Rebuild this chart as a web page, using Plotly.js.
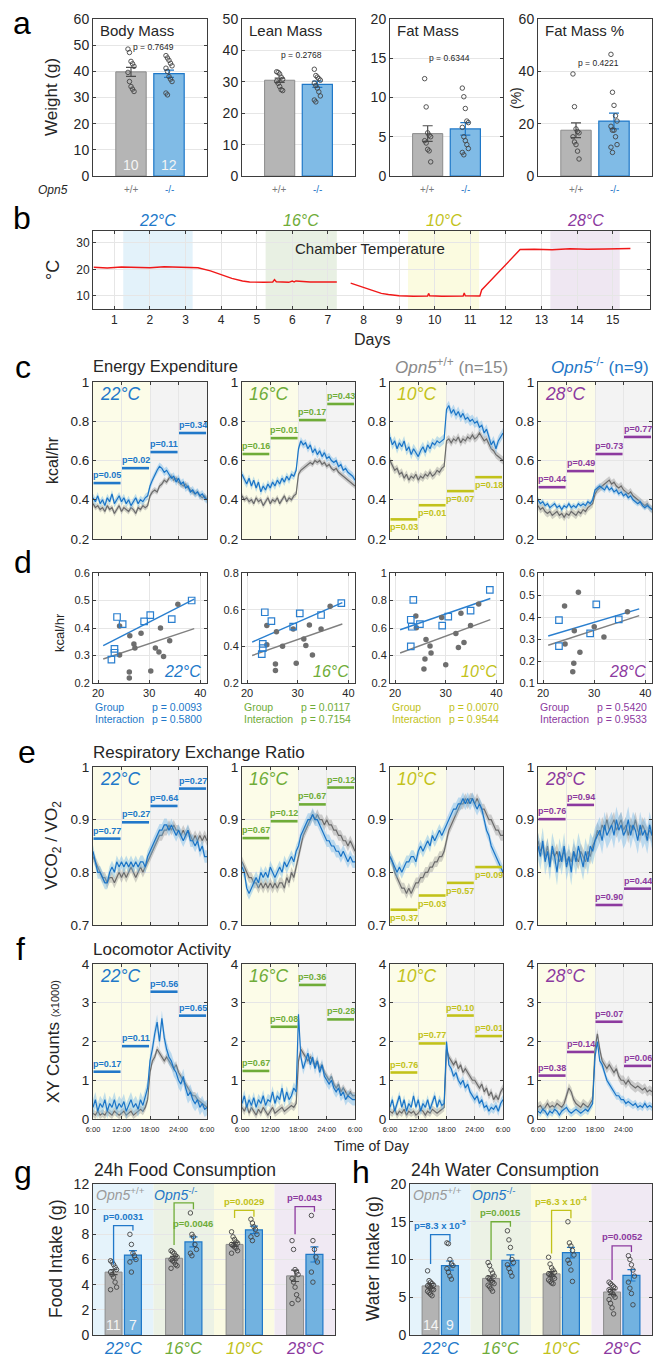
<!DOCTYPE html>
<html>
<head>
<meta charset="utf-8">
<script src="https://cdn.plot.ly/plotly-3.0.1.min.js"></script>
<style>html,body{margin:0;padding:0;background:#fff}#chart{width:657px;height:1357px}</style>
</head>
<body>
<div id="chart"></div>
<script>
// ===================== DATA =====================
const genotypeLabels = ['+/+', '-/-'];
const tempLabels = ['22°C', '16°C', '10°C', '28°C'];

// panel a : body composition
const massTitles = ['Body Mass', 'Lean Mass', 'Fat Mass', 'Fat Mass %'];
const massMeanWT = [39.8, 30.5, 5.4, 17.5];
const massSemWT  = [1.7, 0.7, 1.0, 2.8];
const massMeanKO = [39.1, 29.2, 6.0, 21.0];
const massSemKO  = [1.4, 1.0, 0.8, 3.0];
const massPvals  = ['0.7649', '0.2768', '0.6344', '0.4221'];
const massN      = [10, 12];
const bodyWT   = [48.5, 47.2, 43.8, 42.9, 41.9, 39.6, 36.1, 34.2, 33.2, 32.3];
const bodyKO   = [46.0, 45.1, 44.2, 43.1, 42.1, 41.2, 40.0, 38.0, 37.0, 36.1, 31.7, 31.0];
const leanWT   = [33.2, 33.0, 32.5, 31.5, 30.8, 30.2, 29.5, 28.5, 27.5, 27.2];
const leanKO   = [34.0, 32.0, 31.5, 31.0, 30.5, 29.6, 28.8, 28.0, 26.8, 25.5, 24.2, 23.6];
const fatWT    = [12.4, 8.8, 5.5, 5.2, 5.0, 4.5, 4.2, 3.4, 3.2, 1.8];
const fatKO    = [11.2, 10.1, 8.6, 7.0, 6.8, 6.2, 5.0, 4.5, 4.0, 3.5, 3.0, 2.7];
const fatPctWT = [39.0, 26.5, 18.0, 17.0, 16.5, 15.0, 13.0, 12.0, 9.5, 6.5];
const fatPctKO = [46.5, 32.0, 27.0, 23.0, 21.0, 19.0, 17.5, 17.5, 15.0, 12.0, 11.0, 9.0];

// panel b : chamber temperature
const chamberDay  = [0.42,0.8,1.2,1.6,2.0,2.4,2.8,3.1,3.35,3.7,4.0,4.3,4.6,4.8,5.2,5.45,5.5,5.55,5.9,6.0,6.05,6.1,6.5,6.9,7.25,7.26,7.64,7.9,8.2,8.5,8.7,9.0,9.4,9.8,9.83,9.86,10.2,10.6,10.8,10.83,10.86,11.27,11.32,11.5,12.0,12.4,12.8,13.3,13.8,14.3,14.8,15.3,15.5];
const chamberTemp = [20.8,20.5,20.9,20.7,20.6,21.0,20.8,20.5,20.6,19.4,18.0,16.6,15.6,15.2,15.1,15.2,16.1,15.3,15.1,15.6,15.2,15.6,15.2,15.3,15.2,null,14.8,13.6,12.0,10.9,10.5,10.0,9.8,9.9,10.9,10.0,9.8,10.0,9.9,11.1,10.0,9.9,12.2,14.7,21.8,27.5,27.6,27.4,27.8,27.6,27.7,27.9,27.9];
const tempWindows = [[1.25, 3.2], [5.25, 7.25], [9.25, 11.25], [13.25, 15.2]];

// panel c : energy expenditure (kcal/hr), 30-min bins from 6:00
const ee22WT = [0.38,0.36,0.37,0.35,0.36,0.34,0.37,0.35,0.36,0.33,0.35,0.37,0.34,0.36,0.35,0.34,0.36,0.35,0.33,0.36,0.35,0.37,0.36,0.37,
                0.42,0.44,0.45,0.44,0.47,0.48,0.50,0.49,0.51,0.52,0.50,0.51,0.49,0.48,0.47,0.48,0.46,0.45,0.44,0.43,0.44,0.42,0.41,0.42,0.40];
const ee22KO = [0.41,0.39,0.42,0.38,0.40,0.37,0.41,0.39,0.43,0.38,0.40,0.42,0.39,0.41,0.38,0.40,0.37,0.39,0.41,0.38,0.40,0.39,0.41,0.42,
                0.47,0.50,0.53,0.55,0.57,0.56,0.54,0.55,0.53,0.51,0.52,0.49,0.51,0.48,0.49,0.46,0.47,0.44,0.45,0.43,0.44,0.42,0.43,0.41,0.40];
const ee16WT = [0.42,0.40,0.41,0.39,0.40,0.38,0.41,0.39,0.40,0.37,0.39,0.41,0.38,0.40,0.39,0.41,0.38,0.40,0.42,0.39,0.41,0.40,0.42,0.43,
                0.53,0.55,0.56,0.57,0.58,0.59,0.58,0.60,0.59,0.60,0.58,0.59,0.57,0.58,0.56,0.55,0.56,0.54,0.53,0.52,0.51,0.50,0.49,0.48,0.47];
const ee16KO = [0.53,0.50,0.48,0.51,0.47,0.50,0.46,0.49,0.44,0.47,0.45,0.48,0.46,0.49,0.47,0.50,0.48,0.51,0.49,0.52,0.50,0.53,0.52,0.55,
                0.66,0.70,0.68,0.69,0.66,0.68,0.64,0.66,0.63,0.65,0.62,0.64,0.61,0.62,0.60,0.59,0.60,0.57,0.58,0.55,0.56,0.54,0.53,0.52,0.50];
const ee10WT = [0.60,0.57,0.55,0.56,0.53,0.54,0.51,0.53,0.50,0.52,0.51,0.53,0.50,0.52,0.51,0.53,0.52,0.54,0.52,0.53,0.55,0.54,0.56,0.57,
                0.70,0.71,0.69,0.71,0.70,0.72,0.69,0.71,0.70,0.72,0.71,0.73,0.71,0.72,0.74,0.72,0.70,0.71,0.68,0.66,0.65,0.63,0.62,0.61,0.60];
const ee10KO = [0.72,0.68,0.70,0.66,0.69,0.67,0.70,0.65,0.67,0.63,0.66,0.64,0.62,0.65,0.67,0.64,0.68,0.66,0.69,0.68,0.70,0.69,0.70,0.71,
                0.86,0.88,0.84,0.86,0.83,0.85,0.82,0.84,0.81,0.82,0.80,0.81,0.79,0.80,0.77,0.78,0.74,0.76,0.72,0.68,0.70,0.66,0.70,0.72,0.74];
const ee28WT = [0.37,0.35,0.36,0.34,0.33,0.34,0.32,0.33,0.34,0.32,0.33,0.31,0.33,0.32,0.34,0.33,0.32,0.34,0.33,0.35,0.34,0.36,0.37,0.38,
                0.43,0.45,0.46,0.47,0.48,0.49,0.50,0.48,0.49,0.47,0.46,0.47,0.45,0.44,0.43,0.44,0.42,0.41,0.40,0.39,0.38,0.37,0.38,0.36,0.35];
const ee28KO = [0.40,0.38,0.39,0.37,0.38,0.36,0.37,0.38,0.36,0.37,0.35,0.37,0.36,0.38,0.36,0.37,0.36,0.38,0.37,0.38,0.37,0.39,0.38,0.40,
                0.45,0.46,0.47,0.46,0.45,0.47,0.45,0.46,0.44,0.45,0.43,0.44,0.42,0.43,0.41,0.42,0.40,0.39,0.38,0.39,0.37,0.36,0.37,0.36,0.35];
const eeSemWT = [0.015, 0.015, 0.02, 0.02];
const eeSemKO = [0.02, 0.02, 0.025, 0.015];
const eePvals = [['0.05','0.02','0.11','0.34'],['0.16','0.01','0.17','0.43'],['0.03','0.01','0.07','0.18'],['0.44','0.49','0.73','0.77']];

// panel d : individual EE vs body mass
const dxWT22 = [24.2,26.2,27.0,27.2,24.2,28.4,32.2,31.2,31.9,32.8,34.0,35.6,26.1,26.1,30.3];
const dyWT22 = [0.407,0.372,0.342,0.327,0.302,0.381,0.40,0.327,0.313,0.296,0.354,0.486,0.24,0.218,0.244];
const dxKO22 = [23.7,24.8,29.0,30.2,34.4,38.3,23.2,23.2,22.6];
const dyKO22 = [0.44,0.414,0.424,0.447,0.432,0.50,0.324,0.31,0.285];
const dxWT16 = [23.9,25.8,27.0,29.1,32.3,31.2,31.6,32.9,34.6,23.9,25.6,25.6,29.7,36.4];
const dyWT16 = [0.513,0.48,0.40,0.495,0.517,0.44,0.404,0.353,0.495,0.408,0.304,0.268,0.308,0.618];
const dxKO16 = [23.5,24.8,23.1,23.1,22.9,29.1,30.4,34.6,38.6];
const dyKO16 = [0.586,0.538,0.413,0.39,0.358,0.507,0.58,0.571,0.636];
const dxWT10 = [24.1,24.2,26.1,26.9,27.1,29.2,32.0,33.0,32.5,33.6,34.9,36.5,25.9,25.7,30.0];
const dyWT10 = [0.688,0.601,0.517,0.469,0.418,0.676,0.56,0.708,0.459,0.495,0.618,0.775,0.374,0.302,0.333];
const dxKO10 = [23.6,23.1,23.3,24.9,29.3,30.5,34.9,38.7,23.1];
const dyKO10 = [0.804,0.66,0.609,0.628,0.618,0.683,0.727,0.877,0.466];
const dxWT28 = [24.2,26.9,26.1,24.3,30.0,31.9,36.5,27.2,26.0,25.8];
const dyWT28 = [0.45,0.512,0.338,0.277,0.356,0.309,0.424,0.24,0.19,0.151];
const dxKO28 = [23.1,23.1,30.4,29.2,34.8];
const dyKO28 = [0.386,0.268,0.457,0.326,0.389];
const fitSlopeWT = [0.0062, 0.00966, 0.01367, 0.00756];
const fitInterWT = [0.157, 0.1471, 0.131, 0.1128];
const fitSlopeKO = [0.00949, 0.01209, 0.01278, 0.00694];
const fitInterKO = [0.1365, 0.1693, 0.3187, 0.1678];
const dGroupP = ['0.0093', '0.0117', '0.0070', '0.5420'];
const dInterP = ['0.5800', '0.7154', '0.9544', '0.9533'];

// panel e : RER
const rer22WT = [0.83,0.82,0.81,0.80,0.79,0.79,0.78,0.79,0.79,0.78,0.79,0.80,0.79,0.80,0.79,0.80,0.81,0.80,0.79,0.80,0.81,0.80,0.81,0.82,
                 0.83,0.84,0.85,0.86,0.87,0.87,0.88,0.88,0.89,0.88,0.89,0.88,0.88,0.87,0.88,0.87,0.88,0.87,0.86,0.87,0.86,0.87,0.86,0.87,0.86];
const rer22KO = [0.84,0.82,0.80,0.80,0.79,0.78,0.78,0.80,0.81,0.80,0.82,0.81,0.82,0.81,0.82,0.81,0.82,0.81,0.82,0.81,0.82,0.82,0.81,0.83,
                 0.84,0.85,0.86,0.87,0.88,0.88,0.89,0.89,0.88,0.89,0.88,0.87,0.88,0.87,0.86,0.87,0.88,0.86,0.86,0.85,0.86,0.84,0.85,0.83,0.83];
const rer16WT = [0.82,0.81,0.80,0.79,0.79,0.78,0.78,0.77,0.78,0.77,0.78,0.77,0.78,0.77,0.78,0.77,0.78,0.78,0.77,0.79,0.78,0.80,0.79,0.81,
                 0.83,0.85,0.87,0.88,0.89,0.90,0.91,0.90,0.91,0.90,0.90,0.89,0.90,0.89,0.89,0.88,0.88,0.87,0.87,0.86,0.86,0.85,0.86,0.85,0.84];
const rer16KO = [0.81,0.80,0.77,0.76,0.77,0.78,0.79,0.78,0.80,0.79,0.80,0.79,0.81,0.80,0.79,0.80,0.81,0.80,0.82,0.81,0.82,0.83,0.82,0.84,
                 0.85,0.87,0.88,0.89,0.90,0.90,0.91,0.90,0.90,0.89,0.88,0.87,0.86,0.86,0.85,0.85,0.84,0.84,0.83,0.84,0.83,0.82,0.83,0.82,0.82];
const rer10WT = [0.83,0.82,0.80,0.79,0.78,0.77,0.77,0.76,0.77,0.76,0.77,0.78,0.78,0.79,0.79,0.80,0.80,0.81,0.81,0.82,0.82,0.83,0.83,0.84,
                 0.86,0.88,0.89,0.90,0.91,0.92,0.93,0.93,0.94,0.93,0.94,0.94,0.93,0.94,0.93,0.92,0.92,0.91,0.90,0.90,0.89,0.88,0.88,0.87,0.87];
const rer10KO = [0.83,0.82,0.81,0.80,0.81,0.80,0.81,0.82,0.82,0.83,0.83,0.82,0.84,0.85,0.84,0.85,0.86,0.85,0.87,0.86,0.87,0.88,0.87,0.88,
                 0.89,0.90,0.91,0.92,0.92,0.93,0.93,0.94,0.93,0.94,0.93,0.94,0.93,0.92,0.93,0.92,0.90,0.88,0.87,0.85,0.84,0.83,0.82,0.81,0.80];
const rer28WT = [0.86,0.84,0.85,0.83,0.85,0.82,0.84,0.83,0.84,0.82,0.83,0.84,0.82,0.83,0.82,0.84,0.83,0.82,0.84,0.83,0.82,0.84,0.83,0.85,
                 0.86,0.88,0.87,0.89,0.88,0.90,0.88,0.89,0.90,0.88,0.89,0.90,0.88,0.89,0.87,0.89,0.88,0.90,0.88,0.87,0.89,0.88,0.87,0.88,0.87];
const rer28KO = [0.85,0.83,0.86,0.82,0.84,0.81,0.85,0.83,0.80,0.84,0.82,0.85,0.81,0.83,0.80,0.84,0.82,0.85,0.83,0.81,0.84,0.82,0.85,0.84,
                 0.86,0.87,0.88,0.86,0.89,0.87,0.88,0.89,0.87,0.90,0.88,0.89,0.87,0.88,0.90,0.87,0.89,0.88,0.86,0.89,0.87,0.88,0.86,0.89,0.87];
const rerSemWT = [0.01, 0.01, 0.01, 0.015];
const rerSemKO = [0.012, 0.012, 0.012, 0.025];
const rerPvals = [['0.77','0.27','0.64','0.27'],['0.67','0.12','0.67','0.12'],['0.37','0.03','0.57','0.09'],['0.76','0.94','0.90','0.44']];

// panel f : locomotor activity (x1000 counts)
const loc22WT = [0.15,0.10,0.20,0.10,0.15,0.10,0.20,0.15,0.10,0.20,0.15,0.10,0.15,0.20,0.10,0.15,0.20,0.10,0.15,0.20,0.25,0.20,0.30,0.50,
                 1.20,1.50,1.60,1.80,1.70,1.60,1.50,1.60,1.50,1.40,1.30,1.40,1.20,1.10,1.00,0.90,0.80,0.70,0.60,0.60,0.50,0.45,0.40,0.35,0.30];
const loc22KO = [0.30,0.50,0.20,0.40,0.30,0.50,0.20,0.40,0.30,0.50,0.25,0.40,0.30,0.45,0.20,0.35,0.50,0.30,0.40,0.25,0.50,0.35,0.60,0.80,
                 1.50,1.80,2.20,2.50,2.00,2.60,2.10,1.80,1.60,1.50,1.30,1.20,1.00,0.90,1.10,0.80,0.60,0.70,0.50,0.40,0.50,0.30,0.40,0.25,0.30];
const loc16WT = [0.30,0.20,0.35,0.15,0.30,0.20,0.10,0.25,0.15,0.30,0.20,0.10,0.20,0.30,0.15,0.20,0.25,0.30,0.20,0.25,0.30,0.35,0.30,0.40,
                 1.50,1.80,1.70,1.60,1.50,1.60,1.50,1.40,1.50,1.30,1.40,1.20,1.10,1.00,1.10,0.90,0.80,0.90,0.70,0.80,0.70,0.60,0.70,0.60,0.60];
const loc16KO = [0.40,0.60,0.30,0.50,0.35,0.55,0.30,0.50,0.40,0.60,0.35,0.50,0.45,0.70,0.40,0.60,0.50,0.80,0.45,0.70,0.50,0.60,0.80,0.70,
                 2.70,1.60,1.30,1.50,1.70,1.40,1.60,1.30,1.50,1.20,1.40,1.10,1.00,0.90,1.00,0.80,0.70,0.80,0.60,0.70,0.50,0.60,0.55,0.50,0.50];
const loc10WT = [0.20,0.15,0.25,0.10,0.20,0.15,0.25,0.10,0.20,0.15,0.20,0.10,0.15,0.25,0.20,0.10,0.20,0.15,0.25,0.20,0.15,0.20,0.25,0.30,
                 1.80,1.60,1.50,1.40,1.50,1.30,1.40,1.20,1.30,1.20,1.10,1.00,1.00,0.90,0.80,0.90,0.70,0.80,0.60,0.70,0.50,0.60,0.50,0.70,0.80];
const loc10KO = [0.30,0.50,0.20,0.40,0.60,0.30,0.50,0.20,0.40,0.30,0.60,0.30,0.50,0.20,0.40,0.30,0.50,0.25,0.40,0.60,0.30,0.50,0.35,0.40,
                 2.00,1.40,1.30,1.10,1.20,1.00,0.90,1.00,0.80,0.90,0.70,0.60,0.50,0.60,0.40,0.50,0.30,0.35,0.20,0.30,0.25,0.35,0.20,0.40,0.50];
const loc28WT = [0.30,0.35,0.25,0.30,0.40,0.30,0.35,0.30,0.40,0.35,0.30,0.40,0.60,0.80,0.70,0.50,0.40,0.35,0.30,0.40,0.35,0.30,0.40,0.50,
                 1.80,2.20,1.80,1.50,1.40,1.30,1.40,1.30,1.20,1.30,1.10,1.00,1.00,0.90,1.00,0.90,0.85,0.80,0.85,0.80,0.75,0.80,0.70,0.75,0.70];
const loc28KO = [0.20,0.15,0.25,0.20,0.10,0.20,0.15,0.25,0.20,0.10,0.20,0.25,0.30,0.20,0.15,0.20,0.25,0.20,0.15,0.20,0.25,0.20,0.30,0.40,
                 1.60,2.00,1.50,1.40,1.20,1.00,0.90,0.80,0.70,0.60,0.60,0.50,0.50,0.40,0.45,0.40,0.35,0.40,0.30,0.35,0.30,0.40,0.30,0.35,0.30];
const locSemWT = [0.1, 0.1, 0.1, 0.12];
const locSemKO = [0.2, 0.15, 0.12, 0.1];
const locPvals = [['0.17','0.11','0.56','0.65'],['0.67','0.08','0.36','0.28'],['0.76','0.77','0.10','0.01'],['0.38','0.14','0.07','0.06']];
const timeTickText = ['6:00', '12:00', '18:00', '24:00', '6:00'];

// panel g : food intake (g)
const foodWT22 = [5.9,5.8,5.6,5.4,5.2,5.0,4.8,4.6,4.2,3.8,3.6];
const foodKO22 = [8.0,7.2,6.5,6.3,6.0,5.8,5.0];
const foodWT16 = [6.7,6.6,6.5,6.3,6.2,6.0,5.9,5.8,5.6,5.5,5.3];
const foodKO16 = [9.7,8.0,7.8,7.2,6.8,6.5,6.3];
const foodWT10 = [8.2,7.8,7.6,7.4,7.3,7.2,7.1,7.0,6.9,6.7,6.5];
const foodKO10 = [9.2,8.9,8.6,8.4,8.0,7.8,7.5];
const foodWT28 = [7.5,6.8,5.2,5.0,4.8,4.5,4.2,3.8,3.2,2.8,2.5];
const foodKO28 = [9.5,7.5,6.8,6.2,5.8,5.0,4.2];
const foodMeanWT = [5.0, 6.1, 7.2, 4.7];
const foodSemWT  = [0.2, 0.15, 0.15, 0.45];
const foodMeanKO = [6.35, 7.4, 8.35, 6.4];
const foodSemKO  = [0.35, 0.4, 0.3, 0.6];
const foodP = ['p=0.0031', 'p=0.0046', 'p=0.0029', 'p=0.043'];
const foodN = ['11', '7'];

// panel h : water intake (g)
const waterWT22 = [8.5,7.2,7.0,6.8,6.6,6.5,6.4,6.3,6.1,6.0,5.8,5.6,5.4,5.2];
const waterKO22 = [12.2,12.1,10.0,9.4,9.2,8.8,8.3,7.8,7.4];
const waterWT16 = [9.6,9.2,8.6,8.2,7.8,7.6,7.4,7.2,7.0,6.8,6.6,6.4,6.1,5.8];
const waterKO16 = [13.8,12.6,11.6,10.0,9.6,9.3,8.8,8.3,7.8];
const waterWT10 = [10.3,9.4,8.9,8.6,8.3,8.1,8.0,7.9,7.7,7.5,7.3,7.1,6.9,6.8];
const waterKO10 = [15.0,12.2,11.8,11.2,10.6,9.9,9.5,8.6,7.1];
const waterWT28 = [7.0,6.8,6.6,6.4,6.2,6.0,5.8,5.6,5.3,5.0,4.7,4.2,3.6,2.8];
const waterKO28 = [10.5,10.0,9.3,8.6,7.8,7.0,6.2,5.5,4.0];
const waterMeanWT = [6.5, 7.5, 8.1, 5.7];
const waterSemWT  = [0.3, 0.3, 0.3, 0.35];
const waterMeanKO = [9.2, 9.9, 10.9, 7.9];
const waterSemKO  = [0.6, 0.7, 0.7, 0.75];
const waterP = ['p=8.3 x 10<sup>-5</sup>', 'p=0.0015', 'p=6.3 x 10<sup>-4</sup>', 'p=0.0052'];
const waterN = ['14', '9'];

// ===================== BUILD =====================
const W = 657, H = 1357;
const FONT = '"Liberation Sans", Arial, Helvetica, sans-serif';
const INK = '#262626';
const tempColors = ['#2178c9', '#6fac38', '#c2c21a', '#8c3a9f'];
const WTLINE = '#6b6b6b', KOLINE = '#1a74c6';
const cols = [[93, 207], [242, 355], [390, 503], [538, 652]];
const layout = {width: W, height: H, margin: {l: 0, r: 0, t: 0, b: 0}, paper_bgcolor: '#fff', plot_bgcolor: '#fff',
  showlegend: false, barmode: 'overlay', font: {family: FONT, color: INK}, annotations: [], shapes: []};
const data = [];
let nAx = 0;
function xd(a, b) { return [a / W, b / W]; }
function yd(t, b) { return [1 - b / H, 1 - t / H]; }
function px(x) { return x / W; }
function py(y) { return 1 - y / H; }
function fnt(size, color, extra) { return Object.assign({family: FONT, size: size, color: color || INK}, extra || {}); }
function newAxes(xdom, ydom, xo, yo) {
  nAx++;
  const s = nAx === 1 ? '' : String(nAx);
  const base = {showline: true, linecolor: '#3d3d3d', linewidth: 1, mirror: 'ticks', ticks: 'inside', ticklen: 3, tickwidth: 1,
    tickcolor: '#3d3d3d', showgrid: true, gridcolor: '#e6e6e6', gridwidth: 1, zeroline: false, fixedrange: true, automargin: false,
    tickfont: fnt(13)};
  layout['xaxis' + s] = Object.assign({}, base, {domain: xdom, anchor: 'y' + s}, xo);
  layout['yaxis' + s] = Object.assign({}, base, {domain: ydom, anchor: 'x' + s}, yo);
  return {x: 'x' + s, y: 'y' + s};
}
function ann(o) { layout.annotations.push(Object.assign({xref: 'paper', yref: 'paper', showarrow: false, xanchor: 'center', yanchor: 'middle'}, o)); }
function jit(i, s) { return ((i % 5) - 2) * s; }

// panel letters
[['a', 22, 23], ['b', 22, 218], ['c', 23, 367], ['d', 23, 562], ['e', 27, 752], ['f', 20, 949], ['g', 23, 1172], ['h', 361, 1172]]
  .forEach(l => ann({x: px(l[1]), y: py(l[2]), text: l[0], font: fnt(32, '#000')}));

// ---------- panel a ----------
const massWT = [bodyWT, leanWT, fatWT, fatPctWT];
const massKO = [bodyKO, leanKO, fatKO, fatPctKO];
const massRange = [[0, 60], [0, 50], [0, 20], [0, 60]];
const massDtick = [10, 10, 5, 20];
const massPY = [47, 55, 58, 63];
for (let k = 0; k < 4; k++) {
  const a = newAxes(xd(cols[k][0], cols[k][1]), yd(19, 176),
    {range: [0, 3], showgrid: false, ticks: '', showticklabels: false},
    {range: massRange[k], dtick: massDtick[k], tickfont: fnt(14)});
  data.push({type: 'bar', x: [1], y: [massMeanWT[k]], width: 0.8, xaxis: a.x, yaxis: a.y,
    marker: {color: '#b5b5b5', line: {color: '#8c8c8c', width: 1}},
    error_y: {type: 'data', array: [massSemWT[k]], color: '#4d4d4d', thickness: 1.2, width: 5}});
  data.push({type: 'bar', x: [2], y: [massMeanKO[k]], width: 0.8, xaxis: a.x, yaxis: a.y,
    marker: {color: '#80bbe6', line: {color: '#1f78c8', width: 1.2}},
    error_y: {type: 'data', array: [massSemKO[k]], color: '#1f78c8', thickness: 1.2, width: 5}});
  [[massWT[k], 1], [massKO[k], 2]].forEach(g => {
    data.push({type: 'scatter', mode: 'markers', xaxis: a.x, yaxis: a.y, x: g[0].map((v, i) => g[1] + jit(i, 0.04)), y: g[0],
      marker: {symbol: 'circle-open', size: 4.5, color: '#444', line: {width: 0.9}}});
  });
  ann({x: px(cols[k][0] + 5), y: py(31), xanchor: 'left', text: massTitles[k], font: fnt(15)});
  ann({x: px((cols[k][0] + cols[k][1]) / 2 + 3), y: py(massPY[k]), text: 'p = ' + massPvals[k], font: fnt(8.5)});
  ann({xref: a.x, x: 1, y: py(190), text: genotypeLabels[0], font: fnt(10, '#7a7a7a')});
  ann({xref: a.x, x: 2, y: py(190), text: genotypeLabels[1], font: fnt(10, '#1f78c8')});
  if (k === 0) {
    ann({xref: a.x, x: 1, y: py(165), text: String(massN[0]), font: fnt(14, '#f4f4f4')});
    ann({xref: a.x, x: 2, y: py(165), text: String(massN[1]), font: fnt(14, '#f4f4f4')});
  }
}
ann({x: px(52), y: py(97), text: 'Weight (g)', textangle: -90, font: fnt(17)});
ann({x: px(516), y: py(98), text: '(%)', textangle: -90, font: fnt(14)});
ann({x: px(53), y: py(190), text: '<i>Opn5</i>', font: fnt(12)});

// ---------- panel b ----------
{
  const b = newAxes(xd(93, 650), yd(231, 309),
    {range: [0.4, 16.05], tickvals: [1,2,3,4,5,6,7,8,9,10,11,12,13,14,15], tickfont: fnt(12)},
    {range: [5, 34.5], tickvals: [10, 20, 30], tickfont: fnt(12)});
  const shade = ['#e3f2fa', '#e8f0e3', '#fbfbe0', '#efe7f2'];
  tempWindows.forEach((w, k) => {
    layout.shapes.push({type: 'rect', xref: b.x, yref: b.y + ' domain', x0: w[0], x1: w[1], y0: 0, y1: 1, fillcolor: shade[k], line: {width: 0}, layer: 'below'});
    ann({xref: b.x, x: (w[0] + w[1]) / 2, y: py(221), text: '<i>' + tempLabels[k] + '</i>', font: fnt(16, tempColors[k])});
  });
  data.push({type: 'scatter', mode: 'lines', x: chamberDay, y: chamberTemp, xaxis: b.x, yaxis: b.y, connectgaps: false,
    line: {color: '#f01818', width: 1.4}});
  ann({x: px(370), y: py(249), text: 'Chamber Temperature', font: fnt(15)});
  ann({x: px(53), y: py(270), text: '°C', textangle: -90, font: fnt(18)});
  ann({x: px(372), y: py(339), text: 'Days', font: fnt(16)});
}

// ---------- panels c, e, f ----------
const hours = Array.from({length: 49}, (_, i) => i * 0.5);
const tsRows = [
  {top: 382, bot: 539, range: [0.2, 1], dtick: 0.2, WT: [ee22WT, ee16WT, ee10WT, ee28WT], KO: [ee22KO, ee16KO, ee10KO, ee28KO],
   sWT: eeSemWT, sKO: eeSemKO, p: eePvals, below: [false, false, true, false], showX: false, floor: -1,
   lv: [[0.485, 0.561, 0.643, 0.74], [0.633, 0.714, 0.806, 0.888], [0.30, 0.372, 0.444, 0.515], [0.464, 0.546, 0.633, 0.72]]},
  {top: 767, bot: 925, range: [0.7, 1], dtick: 0.1, WT: [rer22WT, rer16WT, rer10WT, rer28WT], KO: [rer22KO, rer16KO, rer10KO, rer28KO],
   sWT: rerSemWT, sKO: rerSemKO, p: rerPvals, below: [false, false, true, false], showX: false, floor: -1,
   lv: [[0.864, 0.895, 0.926, 0.959], [0.865, 0.897, 0.929, 0.961], [0.729, 0.756, 0.78, 0.81], [0.901, 0.928, 0.738, 0.769]]},
  {top: 964, bot: 1119, range: [0, 4], dtick: 1, WT: [loc22WT, loc16WT, loc10WT, loc28WT], KO: [loc22KO, loc16KO, loc10KO, loc28KO],
   sWT: locSemWT, sKO: locSemKO, p: locPvals, below: [false, false, false, false], showX: true, floor: 0,
   lv: [[1.22, 1.88, 3.285, 2.667], [1.24, 2.38, 3.46, 2.57], [1.2, 1.95, 2.67, 2.14], [1.12, 1.73, 2.51, 1.37]]}
];
function band(x, m, s, floor, color, a) {
  const up = m.map(v => v + s), lo = m.map(v => Math.max(floor, v - s));
  data.push({type: 'scatter', mode: 'lines', x: x.concat(x.slice().reverse()), y: up.concat(lo.slice().reverse()),
    fill: 'toself', fillcolor: color, line: {width: 0}, xaxis: a.x, yaxis: a.y, hoverinfo: 'skip'});
}
tsRows.forEach(row => {
  for (let k = 0; k < 4; k++) {
    const xo = {range: [0, 24], tickvals: [0, 6, 12, 18, 24], showticklabels: row.showX, tickfont: fnt(7.5)};
    if (row.showX) { xo.ticktext = timeTickText; xo.ticklabelstandoff = 3; }
    const a = newAxes(xd(cols[k][0], cols[k][1]), yd(row.top, row.bot), xo,
      {range: row.range, dtick: row.dtick, tick0: row.range[0], tickfont: fnt(13.5)});
    layout.shapes.push({type: 'rect', xref: a.x, yref: a.y + ' domain', x0: 0, x1: 12, y0: 0, y1: 1, fillcolor: '#fcfce8', line: {width: 0}, layer: 'below'});
    layout.shapes.push({type: 'rect', xref: a.x, yref: a.y + ' domain', x0: 12, x1: 24, y0: 0, y1: 1, fillcolor: '#f3f3f3', line: {width: 0}, layer: 'below'});
    band(hours, row.WT[k], row.sWT[k], row.floor, 'rgba(140,140,140,0.38)', a);
    data.push({type: 'scatter', mode: 'lines', x: hours, y: row.WT[k], xaxis: a.x, yaxis: a.y, line: {color: WTLINE, width: 1.2}});
    band(hours, row.KO[k], row.sKO[k], row.floor, 'rgba(110,180,230,0.42)', a);
    data.push({type: 'scatter', mode: 'lines', x: hours, y: row.KO[k], xaxis: a.x, yaxis: a.y, line: {color: KOLINE, width: 1.2}});
    for (let q = 0; q < 4; q++) {
      const lv = row.lv[k][q];
      layout.shapes.push({type: 'line', xref: a.x, yref: a.y, x0: q * 6 + 0.1, x1: q * 6 + 5.8, y0: lv, y1: lv, line: {color: tempColors[k], width: 2.6}});
      ann({xref: a.x, yref: a.y, x: q * 6 + 2.95, y: lv, text: '<b>p=' + row.p[k][q] + '</b>',
        yanchor: row.below[k] ? 'top' : 'bottom', yshift: row.below[k] ? -1 : 1, font: fnt(9, tempColors[k])});
    }
    ann({x: px(cols[k][0] + 5), y: py(row.top + 12), xanchor: 'left', text: '<i>' + tempLabels[k] + '</i>', font: fnt(17.5, tempColors[k])});
  }
});
ann({x: px(91), y: py(366), xanchor: 'left', text: 'Energy Expenditure', font: fnt(16.5)});
ann({x: px(451), y: py(366), text: '<i>Opn5</i><sup>+/+</sup> (n=15)', font: fnt(17, '#8a8a8a')});
ann({x: px(600), y: py(366), text: '<i>Opn5</i><sup>-/-</sup> (n=9)', font: fnt(17, '#1f78c8')});
ann({x: px(52), y: py(460), text: 'kcal/hr', textangle: -90, font: fnt(16)});
ann({x: px(91), y: py(752), xanchor: 'left', text: 'Respiratory Exchange Ratio', font: fnt(17)});
ann({x: px(53), y: py(846), text: 'VCO<sub>2</sub> / VO<sub>2</sub>', textangle: -90, font: fnt(17)});
ann({x: px(91), y: py(949), xanchor: 'left', text: 'Locomotor Activity', font: fnt(17)});
ann({x: px(53), y: py(1042), text: 'XY Counts <span style="font-size:11px">(x1000)</span>', textangle: -90, font: fnt(17)});
ann({x: px(371), y: py(1146), text: 'Time of Day', font: fnt(14)});

// ---------- panel d ----------
const dX = [[dxWT22, dxKO22], [dxWT16, dxKO16], [dxWT10, dxKO10], [dxWT28, dxKO28]];
const dY = [[dyWT22, dyKO22], [dyWT16, dyKO16], [dyWT10, dyKO10], [dyWT28, dyKO28]];
const dRange = [[0.2, 0.6], [0.2, 0.8], [0.2, 1], [0.1, 0.6]];
const dDtick = [0.1, 0.2, 0.2, 0.1];
const fitX = [21, 38.8];
for (let k = 0; k < 4; k++) {
  const a = newAxes(xd(cols[k][0], cols[k][1]), yd(573, 683),
    {range: [19, 41.3], tickvals: [20, 30, 40], tickfont: fnt(11)},
    {range: dRange[k], dtick: dDtick[k], tick0: dRange[k][0], tickfont: fnt(11)});
  data.push({type: 'scatter', mode: 'lines', x: fitX, y: fitX.map(v => fitInterWT[k] + fitSlopeWT[k] * v), xaxis: a.x, yaxis: a.y, line: {color: '#808080', width: 1.4}});
  data.push({type: 'scatter', mode: 'lines', x: fitX, y: fitX.map(v => fitInterKO[k] + fitSlopeKO[k] * v), xaxis: a.x, yaxis: a.y, line: {color: '#2a7fcf', width: 1.4}});
  data.push({type: 'scatter', mode: 'markers', x: dX[k][0], y: dY[k][0], xaxis: a.x, yaxis: a.y, marker: {symbol: 'circle', size: 5.5, color: '#6e6e6e'}});
  data.push({type: 'scatter', mode: 'markers', x: dX[k][1], y: dY[k][1], xaxis: a.x, yaxis: a.y, marker: {symbol: 'square-open', size: 6.5, color: '#2a7fcf', line: {width: 1.2}}});
  ann({x: px(cols[k][1] - 4), y: py(671), xanchor: 'right', text: '<i>' + tempLabels[k] + '</i>', font: fnt(16, tempColors[k])});
  ann({x: px(cols[k][0]), y: py(707), xanchor: 'left', text: 'Group', font: fnt(10.5, tempColors[k])});
  ann({x: px(cols[k][0]), y: py(719), xanchor: 'left', text: 'Interaction', font: fnt(10.5, tempColors[k])});
  ann({x: px(cols[k][0] + 57), y: py(707), xanchor: 'left', text: 'p = ' + dGroupP[k], font: fnt(10.5, tempColors[k])});
  ann({x: px(cols[k][0] + 57), y: py(719), xanchor: 'left', text: 'p = ' + dInterP[k], font: fnt(10.5, tempColors[k])});
}
ann({x: px(59), y: py(633), text: 'kcal/hr', textangle: -90, font: fnt(13)});

// ---------- panels g, h ----------
function intakePanel(x0, x1, range, dtick, WTs, KOs, mWT, sWT, mKO, sKO, pTexts, br, nLab, opnX, title, ylab, ylabX) {
  const a = newAxes(xd(x0, x1), yd(1184, 1335), {range: [0, 4], showgrid: false, ticks: '', showticklabels: false},
    {range: range, dtick: dtick, tickfont: fnt(14)});
  const bg = ['#e5f3fb', '#ecf2e5', '#fbfbe3', '#f0e9f3'];
  for (let k = 0; k < 4; k++) {
    layout.shapes.push({type: 'rect', xref: a.x, yref: a.y + ' domain', x0: k, x1: k + 1, y0: 0, y1: 1, fillcolor: bg[k], line: {width: 0}, layer: 'below'});
    data.push({type: 'bar', x: [k + 0.34], y: [mWT[k]], width: 0.28, xaxis: a.x, yaxis: a.y,
      marker: {color: '#b3b3b3', line: {color: '#8c8c8c', width: 1}},
      error_y: {type: 'data', array: [sWT[k]], color: '#4d4d4d', thickness: 1.2, width: 4}});
    data.push({type: 'bar', x: [k + 0.66], y: [mKO[k]], width: 0.28, xaxis: a.x, yaxis: a.y,
      marker: {color: '#72b2e0', line: {color: '#1f78c8', width: 1.2}},
      error_y: {type: 'data', array: [sKO[k]], color: '#1f78c8', thickness: 1.2, width: 4}});
    data.push({type: 'scatter', mode: 'markers', xaxis: a.x, yaxis: a.y, x: WTs[k].map((v, i) => k + 0.34 + jit(i, 0.025)), y: WTs[k],
      marker: {symbol: 'circle-open', size: 4.5, color: '#444', line: {width: 0.9}}});
    data.push({type: 'scatter', mode: 'markers', xaxis: a.x, yaxis: a.y, x: KOs[k].map((v, i) => k + 0.66 + jit(i, 0.025)), y: KOs[k],
      marker: {symbol: 'circle-open', size: 4.5, color: '#444', line: {width: 0.9}}});
    const c = tempColors[k], B = br[k];
    layout.shapes.push({type: 'path', xref: a.x, yref: a.y,
      path: 'M ' + (k + 0.34) + ' ' + B.l + ' L ' + (k + 0.34) + ' ' + B.top + ' L ' + (k + 0.66) + ' ' + B.top + ' L ' + (k + 0.66) + ' ' + B.r,
      line: {color: c, width: 1.3}});
    ann({xref: a.x, yref: a.y, x: k + B.tx, y: B.ty, yanchor: B.ya, text: '<b>' + pTexts[k] + '</b>', font: fnt(9.5, c)});
    ann({xref: a.x, x: k + 0.5, y: py(1348), text: '<i>' + tempLabels[k] + '</i>', font: fnt(16.5, c)});
  }
  ann({xref: a.x, x: 0.34, y: py(1325), text: nLab[0], font: fnt(14, '#f4f4f4')});
  ann({xref: a.x, x: 0.66, y: py(1325), text: nLab[1], font: fnt(14, '#f4f4f4')});
  ann({xref: a.x, x: opnX[0], y: py(1194), text: '<i>Opn5</i><sup>+/+</sup>', font: fnt(14, '#9a9a9a')});
  ann({xref: a.x, x: opnX[1], y: py(1194), text: '<i>Opn5</i><sup>-/-</sup>', font: fnt(14, '#1f78c8')});
  ann({x: px(x0 - 1), y: py(1170), xanchor: 'left', text: title, font: fnt(17.5)});
  ann({x: px(ylabX), y: py(1259), text: ylab, textangle: -90, font: fnt(17.5)});
}
intakePanel(93, 335, [0, 12], 2, [foodWT22, foodWT16, foodWT10, foodWT28], [foodKO22, foodKO16, foodKO10, foodKO28],
  foodMeanWT, foodSemWT, foodMeanKO, foodSemKO, foodP,
  [{top: 8.7, l: 5.6, r: 8.3, tx: 0.5, ty: 8.85, ya: 'bottom'}, {top: 10.5, l: 7.15, r: 10.0, tx: 0.66, ty: 8.9, ya: 'middle'},
   {top: 9.9, l: 9.3, r: 9.4, tx: 0.5, ty: 10.05, ya: 'bottom'}, {top: 10.2, l: 8.0, r: 9.8, tx: 0.5, ty: 10.35, ya: 'bottom'}],
  foodN, [0.45, 1.37], '24h Food Consumption', 'Food Intake (g)', 56);
intakePanel(410, 652, [0, 20], 5, [waterWT22, waterWT16, waterWT10, waterWT28], [waterKO22, waterKO16, waterKO10, waterKO28],
  waterMeanWT, waterSemWT, waterMeanKO, waterSemKO, waterP,
  [{top: 13.3, l: 9.4, r: 12.4, tx: 0.5, ty: 13.5, ya: 'bottom'}, {top: 15.0, l: 9.9, r: 14.35, tx: 0.5, ty: 15.2, ya: 'bottom'},
   {top: 16.5, l: 10.8, r: 15.45, tx: 0.5, ty: 16.7, ya: 'bottom'}, {top: 11.8, l: 7.3, r: 11.0, tx: 0.5, ty: 12.0, ya: 'bottom'}],
  waterN, [0.46, 1.39], '24h Water Consumption', 'Water Intake (g)', 373);

Plotly.newPlot('chart', data, layout, {staticPlot: true, displayModeBar: false});
</script>
</body>
</html>
